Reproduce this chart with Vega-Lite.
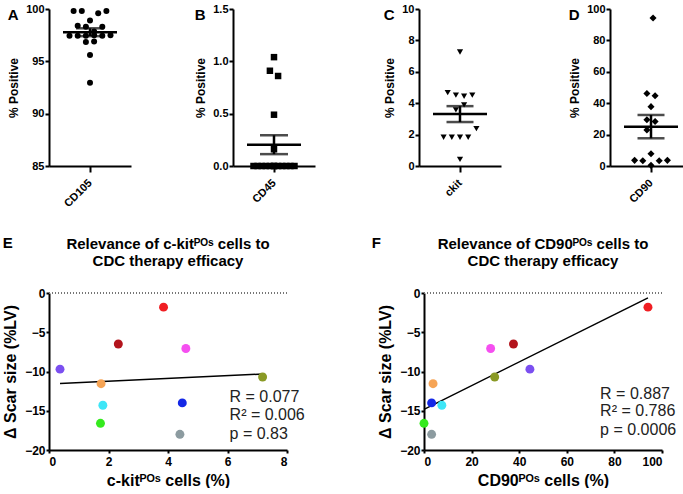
{
  "$schema": "https://vega.github.io/schema/vega-lite/v6.json",
  "padding": {"left": 2, "top": 3, "right": 0, "bottom": 0},
  "autosize": {"type": "pad"},
  "background": "white",
  "datasets": {
    "cd105": [
      {"slot": -4, "v": 99.8}, {"slot": -2, "v": 99.8}, {"slot": 2, "v": 99.6}, {"slot": 4, "v": 99.8},
      {"slot": 0, "v": 98.9},
      {"slot": -3, "v": 98.4}, {"slot": -1, "v": 98.3}, {"slot": 3, "v": 98.3},
      {"slot": 1, "v": 97.85},
      {"slot": -5, "v": 97.45}, {"slot": -3, "v": 97.45}, {"slot": -1, "v": 97.45}, {"slot": 1, "v": 97.5}, {"slot": 3, "v": 97.45}, {"slot": 5, "v": 97.5},
      {"slot": -1, "v": 96.85}, {"slot": 1, "v": 96.9},
      {"slot": 0, "v": 95.6},
      {"slot": 0, "v": 92.95}
    ],
    "cd45": [
      {"slot": 0, "v": 1.04}, {"slot": -1, "v": 0.91}, {"slot": 1, "v": 0.86}, {"slot": 0, "v": 0.49}, {"slot": 0, "v": 0.16},
      {"slot": -5, "v": 0}, {"slot": -4, "v": 0}, {"slot": -3, "v": 0}, {"slot": -2, "v": 0}, {"slot": -1, "v": 0}, {"slot": 0, "v": 0},
      {"slot": 1, "v": 0}, {"slot": 2, "v": 0}, {"slot": 3, "v": 0}, {"slot": 4, "v": 0}, {"slot": 5, "v": 0}, {"slot": 0, "v": 0}
    ],
    "ckit": [
      {"slot": 0, "v": 7.26},
      {"slot": -3, "v": 4.67}, {"slot": -1, "v": 4.51}, {"slot": 1, "v": 4.44}, {"slot": 3, "v": 4.51},
      {"slot": 1, "v": 3.89}, {"slot": -1, "v": 3.58},
      {"slot": 4, "v": 2.38},
      {"slot": -4, "v": 1.83}, {"slot": -2, "v": 1.83}, {"slot": 0, "v": 1.83}, {"slot": 2, "v": 1.83},
      {"slot": 0, "v": 0.42}
    ],
    "cd90": [
      {"slot": 0.5, "v": 94.3},
      {"slot": -1, "v": 46.2}, {"slot": 1, "v": 44.7},
      {"slot": 0, "v": 37.8},
      {"slot": -1, "v": 29.5}, {"slot": 1, "v": 28.3},
      {"slot": -1, "v": 23.0},
      {"slot": 0, "v": 7.8},
      {"slot": -4, "v": 3.6}, {"slot": -2, "v": 3.4}, {"slot": 2, "v": 3.4}, {"slot": 4, "v": 3.6},
      {"slot": 0, "v": 0.4}
    ],
    "cells": [
      {"animal": "1", "kit": 3.85, "cd90": 94.1, "scar": -1.8},
      {"animal": "2", "kit": 2.33, "cd90": 37.6, "scar": -6.5},
      {"animal": "3", "kit": 4.6, "cd90": 28.0, "scar": -7.07},
      {"animal": "4", "kit": 0.37, "cd90": 44.5, "scar": -9.7},
      {"animal": "5", "kit": 7.18, "cd90": 29.7, "scar": -10.7},
      {"animal": "6", "kit": 1.75, "cd90": 3.8, "scar": -11.55},
      {"animal": "7", "kit": 4.48, "cd90": 3.2, "scar": -14.0},
      {"animal": "8", "kit": 1.81, "cd90": 7.5, "scar": -14.3},
      {"animal": "9", "kit": 1.73, "cd90": 0.0, "scar": -16.6},
      {"animal": "10", "kit": 4.4, "cd90": 3.2, "scar": -18.0}
    ],
    "statsE": [
      {"kit": 6.07, "scar": -13.3, "t": "R = 0.077"},
      {"kit": 6.07, "scar": -15.55, "t": "R² = 0.006"},
      {"kit": 6.07, "scar": -17.95, "t": "p = 0.83"}
    ],
    "statsF": [
      {"cd90": 74, "scar": -12.85, "t": "R = 0.887"},
      {"cd90": 74, "scar": -15.07, "t": "R² = 0.786"},
      {"cd90": 74, "scar": -17.4, "t": "p = 0.0006"}
    ]
  },
  "vconcat": [
    {
      "spacing": 68,
      "hconcat": [
        {
          "spacing": 63,
          "hconcat": [
            {
              "title": {"text": "A", "anchor": "start", "frame": "bounds", "dy": 20, "offset": 0},
              "width": 82, "height": 157,
              "data": {"name": "cd105"},
              "layer": [
                {"mark": {"type": "point", "shape": "circle", "filled": true, "color": "black", "size": 36, "opacity": 1},
                 "encoding": {
                   "x": {"field": "slot", "type": "quantitative", "scale": {"domain": [-8.6, 8.6]}, "axis": {"values": [0], "labelExpr": "'CD105'", "labelAngle": -45, "labelAlign": "right", "labelBaseline": "middle", "labelPadding": 9, "tickSize": 6, "title": null}},
                   "y": {"field": "v", "type": "quantitative", "scale": {"domain": [85, 100], "nice": false, "zero": false}, "axis": {"values": [85, 90, 95, 100], "labelOverlap": false, "title": "% Positive"}}}},
                {"mark": {"type": "errorbar", "extent": "stderr", "orient": "vertical", "color": "black", "thickness": 2.5, "ticks": {"size": 28, "thickness": 2.5, "color": "black"}},
                 "encoding": {"x": {"datum": 0}, "y": {"field": "v", "type": "quantitative", "axis": {"values": [85, 90, 95, 100], "labelOverlap": false, "title": "% Positive"}}}},
                {"mark": {"type": "tick", "orient": "horizontal", "size": 54, "thickness": 2.5, "color": "black", "opacity": 1},
                 "encoding": {"x": {"datum": 0}, "y": {"aggregate": "mean", "field": "v", "type": "quantitative", "axis": {"values": [85, 90, 95, 100], "labelOverlap": false, "title": "% Positive"}}}}
              ]
            },
            {
              "title": {"text": "B", "anchor": "start", "frame": "bounds", "dy": 20, "offset": 0},
              "width": 82, "height": 157,
              "data": {"name": "cd45"},
              "layer": [
                {"mark": {"type": "point", "shape": "square", "filled": true, "color": "black", "size": 42, "opacity": 1},
                 "encoding": {
                   "x": {"field": "slot", "type": "quantitative", "scale": {"domain": [-8.6, 8.6]}, "axis": {"values": [0], "labelExpr": "'CD45'", "labelAngle": -45, "labelAlign": "right", "labelBaseline": "middle", "labelPadding": 9, "tickSize": 6, "title": null}},
                   "y": {"field": "v", "type": "quantitative", "scale": {"domain": [0, 1.5], "nice": false}, "axis": {"values": [0, 0.5, 1, 1.5], "format": ".1f", "labelOverlap": false, "title": "% Positive"}}}},
                {"mark": {"type": "errorbar", "extent": "stderr", "orient": "vertical", "color": "black", "thickness": 2.5, "ticks": {"size": 28, "thickness": 2.5, "color": "black"}},
                 "encoding": {"x": {"datum": 0}, "y": {"field": "v", "type": "quantitative", "axis": {"values": [0, 0.5, 1, 1.5], "format": ".1f", "labelOverlap": false, "title": "% Positive"}}}},
                {"mark": {"type": "tick", "orient": "horizontal", "size": 54, "thickness": 2.5, "color": "black", "opacity": 1},
                 "encoding": {"x": {"datum": 0}, "y": {"aggregate": "mean", "field": "v", "type": "quantitative", "axis": {"values": [0, 0.5, 1, 1.5], "format": ".1f", "labelOverlap": false, "title": "% Positive"}}}}
              ]
            }
          ]
        },
        {
          "spacing": 67,
          "hconcat": [
            {
              "title": {"text": "C", "anchor": "start", "frame": "bounds", "dy": 20, "offset": 0},
              "width": 82, "height": 157,
              "data": {"name": "ckit"},
              "layer": [
                {"mark": {"type": "point", "shape": "triangle-down", "filled": true, "color": "black", "size": 38, "opacity": 1},
                 "encoding": {
                   "x": {"field": "slot", "type": "quantitative", "scale": {"domain": [-8.6, 8.6]}, "axis": {"values": [0], "labelExpr": "'ckit'", "labelAngle": -45, "labelAlign": "right", "labelBaseline": "middle", "labelPadding": 9, "tickSize": 6, "title": null}},
                   "y": {"field": "v", "type": "quantitative", "scale": {"domain": [0, 10], "nice": false}, "axis": {"values": [0, 2, 4, 6, 8, 10], "labelOverlap": false, "title": "% Positive"}}}},
                {"mark": {"type": "errorbar", "extent": "stderr", "orient": "vertical", "color": "black", "thickness": 2.5, "ticks": {"size": 27, "thickness": 2.5, "color": "black"}},
                 "encoding": {"x": {"datum": 0}, "y": {"field": "v", "type": "quantitative", "axis": {"values": [0, 2, 4, 6, 8, 10], "labelOverlap": false, "title": "% Positive"}}}},
                {"mark": {"type": "tick", "orient": "horizontal", "size": 54, "thickness": 2.5, "color": "black", "opacity": 1},
                 "encoding": {"x": {"datum": 0}, "y": {"aggregate": "mean", "field": "v", "type": "quantitative", "axis": {"values": [0, 2, 4, 6, 8, 10], "labelOverlap": false, "title": "% Positive"}}}}
              ]
            },
            {
              "title": {"text": "D", "anchor": "start", "frame": "bounds", "dy": 20, "offset": 0},
              "width": 82, "height": 157,
              "data": {"name": "cd90"},
              "layer": [
                {"mark": {"type": "point", "shape": "diamond", "filled": true, "color": "black", "size": 50, "opacity": 1},
                 "encoding": {
                   "x": {"field": "slot", "type": "quantitative", "scale": {"domain": [-8.6, 8.6]}, "axis": {"values": [0], "labelExpr": "'CD90'", "labelAngle": -45, "labelAlign": "right", "labelBaseline": "middle", "labelPadding": 9, "tickSize": 6, "title": null}},
                   "y": {"field": "v", "type": "quantitative", "scale": {"domain": [0, 100], "nice": false}, "axis": {"values": [0, 20, 40, 60, 80, 100], "labelOverlap": false, "title": "% Positive"}}}},
                {"mark": {"type": "errorbar", "extent": "stderr", "orient": "vertical", "color": "black", "thickness": 2.5, "ticks": {"size": 27, "thickness": 2.5, "color": "black"}},
                 "encoding": {"x": {"datum": 0}, "y": {"field": "v", "type": "quantitative", "axis": {"values": [0, 20, 40, 60, 80, 100], "labelOverlap": false, "title": "% Positive"}}}},
                {"mark": {"type": "tick", "orient": "horizontal", "size": 54, "thickness": 2.5, "color": "black", "opacity": 1},
                 "encoding": {"x": {"datum": 0}, "y": {"aggregate": "mean", "field": "v", "type": "quantitative", "axis": {"values": [0, 20, 40, 60, 80, 100], "labelOverlap": false, "title": "% Positive"}}}}
              ]
            }
          ]
        }
      ]
    },
    {
      "spacing": 66,
      "hconcat": [
        {
          "title": {"text": "E", "anchor": "start", "frame": "bounds", "dy": 14, "offset": 0},
          "hconcat": [
            {
              "title": {"text": ["Relevance of c-kitᴾᴼˢ cells to", "CDC therapy efficacy"], "anchor": "middle", "frame": "group", "fontSize": 15, "lineHeight": 17, "offset": 18},
              "width": 238, "height": 157,
              "data": {"name": "cells"},
              "encoding": {
                "x": {"field": "kit", "type": "quantitative", "scale": {"domain": [0, 8], "nice": false}, "axis": {"values": [0, 2, 4, 6, 8], "labelOverlap": false, "title": "c-kitᴾᴼˢ cells (%)", "titleFontSize": 16, "labelFontSize": 12, "tickSize": 3, "labelPadding": 3}},
                "y": {"field": "scar", "type": "quantitative", "scale": {"domain": [-20, 0], "nice": false}, "axis": {"values": [-20, -15, -10, -5, 0], "labelOverlap": false, "title": "Δ Scar size (%LV)", "titleFontSize": 16, "labelFontSize": 12, "tickSize": 3, "titlePadding": 6}}
              },
              "layer": [
                {"mark": {"type": "rule", "strokeDash": [1, 2], "color": "#777777", "strokeWidth": 1}, "encoding": {"x": null, "y": {"datum": 0, "type": "quantitative"}}},
                {"transform": [{"regression": "scar", "on": "kit"}],
                 "mark": {"type": "line", "color": "black", "strokeWidth": 1.5}},
                {"mark": {"type": "circle", "size": 80, "opacity": 1},
                 "encoding": {
                   "color": {"field": "animal", "type": "nominal", "legend": null,
                     "scale": {"domain": ["1","2","3","4","5","6","7","8","9","10"], "range": ["#f01e23","#b3141c","#f54ff0","#7b4ff0","#8a9a25","#f6a455","#1428e6","#3ee6f7","#35ea1e","#8c9ba0"]}}}},
                {"data": {"name": "statsE"},
                 "mark": {"type": "text", "align": "left", "baseline": "middle", "fontSize": 16, "font": "Liberation Sans", "color": "#222222"},
                 "encoding": {"text": {"field": "t"}}}
              ]
            }
          ]
        },
        {
          "title": {"text": "F", "anchor": "start", "frame": "bounds", "dy": 14, "dx": -6, "offset": 0},
          "hconcat": [
            {
              "title": {"text": ["Relevance of CD90ᴾᴼˢ cells to", "CDC therapy efficacy"], "anchor": "middle", "frame": "group", "fontSize": 15, "lineHeight": 17, "offset": 18},
              "width": 238, "height": 157,
              "data": {"name": "cells"},
              "encoding": {
                "x": {"field": "cd90", "type": "quantitative", "scale": {"domain": [0, 100], "nice": false}, "axis": {"values": [0, 20, 40, 60, 80, 100], "labelOverlap": false, "title": "CD90ᴾᴼˢ cells (%)", "titleFontSize": 16, "labelFontSize": 12, "tickSize": 3, "labelPadding": 3}},
                "y": {"field": "scar", "type": "quantitative", "scale": {"domain": [-20, 0], "nice": false}, "axis": {"values": [-20, -15, -10, -5, 0], "labelOverlap": false, "title": "Δ Scar size (%LV)", "titleFontSize": 16, "labelFontSize": 12, "tickSize": 3, "titlePadding": 6}}
              },
              "layer": [
                {"mark": {"type": "rule", "strokeDash": [1, 2], "color": "#777777", "strokeWidth": 1}, "encoding": {"x": null, "y": {"datum": 0, "type": "quantitative"}}},
                {"transform": [{"regression": "scar", "on": "cd90"}],
                 "mark": {"type": "line", "color": "black", "strokeWidth": 1.5}},
                {"mark": {"type": "circle", "size": 80, "opacity": 1},
                 "encoding": {
                   "color": {"field": "animal", "type": "nominal", "legend": null,
                     "scale": {"domain": ["1","2","3","4","5","6","7","8","9","10"], "range": ["#f01e23","#b3141c","#f54ff0","#7b4ff0","#8a9a25","#f6a455","#1428e6","#3ee6f7","#35ea1e","#8c9ba0"]}}}},
                {"data": {"name": "statsF"},
                 "mark": {"type": "text", "align": "left", "baseline": "middle", "fontSize": 16, "font": "Liberation Sans", "color": "#222222"},
                 "encoding": {"text": {"field": "t"}}}
              ]
            }
          ]
        }
      ]
    }
  ],
  "spacing": 27,
  "config": {
    "view": {"stroke": null},
    "font": "Liberation Sans",
    "axis": {
      "grid": false, "domainColor": "black", "domainWidth": 2, "tickColor": "black", "tickWidth": 2, "tickSize": 4,
      "labelFont": "Liberation Sans", "labelFontWeight": "bold", "labelColor": "black", "labelFontSize": 11, "labelPadding": 1, "labelOverlap": false,
      "titleFont": "Liberation Sans", "titleFontWeight": "bold", "titleColor": "black", "titleFontSize": 12, "titlePadding": 5
    },
    "title": {"font": "Liberation Sans", "fontWeight": "bold", "fontSize": 15, "color": "black"}
  }
}
